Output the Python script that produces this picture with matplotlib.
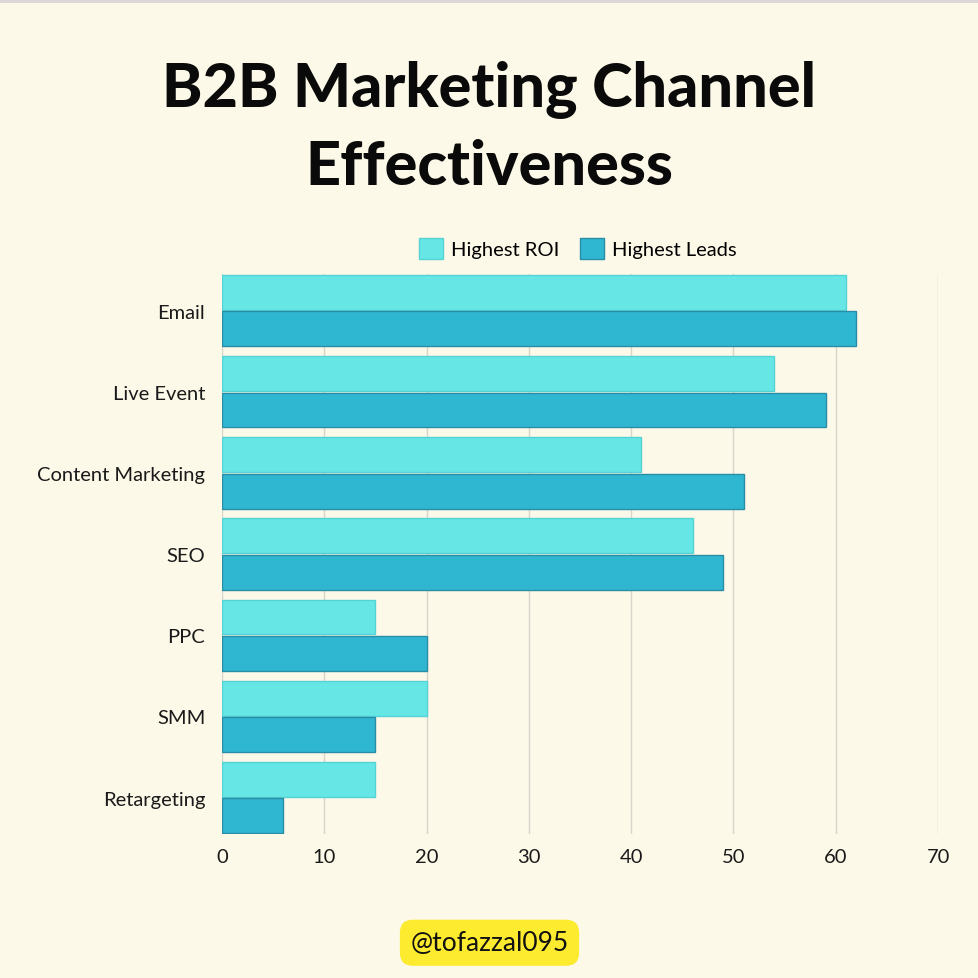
import matplotlib.pyplot as plt
import numpy as np
from matplotlib.patches import Rectangle

channels = ["Email", "Live Event", "Content Marketing", "SEO", "PPC", "SMM", "Retargeting"]
highest_roi = [61, 54, 41, 46, 15, 20, 15]
highest_leads = [62, 59, 51, 49, 20, 15, 6]
x_ticks = [0, 10, 20, 30, 40, 50, 60, 70]

bg = "#FDF9E8"
roi_color = "#67E6E6"
leads_color = "#2FB7D2"

plt.rcParams['font.family'] = ['Lato', 'DejaVu Sans']

fig = plt.figure(figsize=(9.79, 9.79), dpi=100, facecolor=bg)
ax = fig.add_axes([0.2268, 0.147, 0.7314, 0.572])
ax.set_facecolor(bg)

y = np.arange(len(channels))
h = 0.43
ax.barh(y - 0.225, highest_roi, height=h, color=roi_color, edgecolor="#55D2D6",
        linewidth=1, label="Highest ROI", zorder=3)
ax.barh(y + 0.225, highest_leads, height=h, color=leads_color, edgecolor="#2A8DA6",
        linewidth=1, label="Highest Leads", zorder=3)

ax.set_ylim(len(channels) - 1 + 0.45, -0.45)
ax.set_xlim(0, 70)
ax.set_xticks(x_ticks)
ax.set_yticks(y)
ax.set_yticklabels(channels)
ax.tick_params(axis='both', length=0, labelsize=14.5, colors="#1a1a1a")
ax.tick_params(axis='x', pad=10)
ax.tick_params(axis='y', pad=12)
for lbl in ax.get_yticklabels():
    lbl.set_y(lbl.get_position()[1])
ax.xaxis.grid(True, color="#D8D5CA", linewidth=1, zorder=0)
for s in ax.spines.values():
    s.set_visible(False)

leg = fig.legend(loc="center", bbox_to_anchor=(0.59, 0.745), ncol=2, frameon=False,
                 fontsize=14.5, handlelength=1.2, handleheight=1.2, columnspacing=1.0,
                 handletextpad=0.4)

fig.text(0.5, 0.908, "B2B Marketing Channel", ha="center", va="center",
         fontsize=44, fontweight="black", color="#0a0a0a")
fig.text(0.5, 0.829, "Effectiveness", ha="center", va="center",
         fontsize=44, fontweight="black", color="#0a0a0a")

# top grey strip
fig.patches.append(Rectangle((0, 0.996), 1, 0.004, transform=fig.transFigure,
                             facecolor="#DDD8D5", edgecolor="none"))

fig.text(0.5, 0.036, "@tofazzal095", ha="center", va="center", fontsize=19,
         color="#111111",
         bbox=dict(boxstyle="round,pad=0.4,rounding_size=0.5", facecolor="#FCEB2E",
                   edgecolor="none"))

fig.savefig("out.png", dpi=100, facecolor=bg)
